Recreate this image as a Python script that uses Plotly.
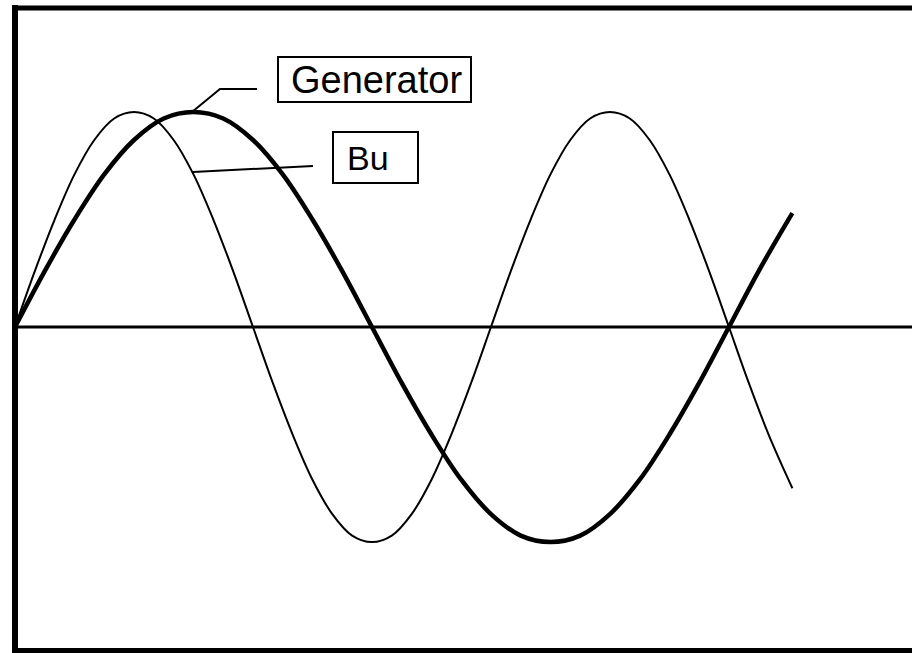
import plotly.graph_objects as go

# Phase angle (degrees) along the horizontal axis, for each curve
angle_gen = [0, 15, 30, 45, 60, 75, 90, 105, 120, 135, 150, 165, 180, 195, 210,
             225, 240, 255, 270, 285, 300, 315, 330, 345, 360, 375, 390, 392]
angle_bu = [0, 10, 20, 30, 40, 50, 60, 70, 80, 90, 100, 110, 120, 130, 140, 150, 160,
            170, 180, 190, 200, 210, 220, 230, 240, 250, 260, 270, 280, 290, 300, 310,
            320, 330, 340, 350, 360, 370, 380, 390, 392]

# Generator (thick) curve, normalised amplitude
generator = [0.00, 0.26, 0.50, 0.71, 0.87, 0.97, 1.00, 0.97, 0.87, 0.71, 0.50, 0.26, 0.00,
             -0.26, -0.50, -0.71, -0.87, -0.97, -1.00, -0.97, -0.87, -0.71, -0.50, -0.26,
             0.00, 0.26, 0.50, 0.53]

# Bu (thin) curve, normalised amplitude
bu = [0.00, 0.26, 0.50, 0.71, 0.87, 0.97, 1.00, 0.97, 0.87, 0.71, 0.50, 0.26, 0.00,
      -0.26, -0.50, -0.71, -0.87, -0.97, -1.00, -0.97, -0.87, -0.71, -0.50, -0.26,
      0.00, 0.26, 0.50, 0.71, 0.87, 0.97, 1.00, 0.97, 0.87, 0.71, 0.50, 0.26, 0.00,
      -0.26, -0.50, -0.71, -0.75]

labels = ["Generator", "Bu"]

W, H = 912, 653


def px(x):
    return x / W


def py(y):
    return 1 - y / H


fig = go.Figure()
fig.add_trace(go.Scatter(x=angle_bu, y=bu, mode="lines", name=labels[1],
                         line=dict(color="black", width=2, shape="spline", smoothing=1.0),
                         showlegend=False, hoverinfo="skip"))
fig.add_trace(go.Scatter(x=angle_gen, y=generator, mode="lines", name=labels[0],
                         line=dict(color="black", width=4.5, shape="spline", smoothing=1.0),
                         showlegend=False, hoverinfo="skip"))

shapes = []
# zero axis
shapes.append(dict(type="line", xref="paper", yref="y", x0=px(15), x1=1, y0=0, y1=0,
                   line=dict(color="black", width=3)))
# frame: left, top, bottom
shapes.append(dict(type="line", xref="paper", yref="paper", x0=px(15), x1=px(15),
                   y0=py(5), y1=py(653), line=dict(color="black", width=6)))
shapes.append(dict(type="line", xref="paper", yref="paper", x0=px(12), x1=1,
                   y0=py(8), y1=py(8), line=dict(color="black", width=5)))
shapes.append(dict(type="line", xref="paper", yref="paper", x0=px(12), x1=1,
                   y0=py(650.5), y1=py(650.5), line=dict(color="black", width=5)))
# label boxes
shapes.append(dict(type="rect", xref="paper", yref="paper", x0=px(278), x1=px(471),
                   y0=py(57), y1=py(102), line=dict(color="black", width=2),
                   fillcolor="white"))
shapes.append(dict(type="rect", xref="paper", yref="paper", x0=px(333), x1=px(418),
                   y0=py(132), y1=py(183), line=dict(color="black", width=2),
                   fillcolor="white"))
# leader lines
shapes.append(dict(type="path", xref="paper", yref="paper",
                   path=f"M {px(257)} {py(89)} L {px(220)} {py(89)} L {px(192)} {py(112)}",
                   line=dict(color="black", width=2)))
shapes.append(dict(type="line", xref="paper", yref="paper", x0=px(313), x1=px(193),
                   y0=py(166), y1=py(172), line=dict(color="black", width=2)))

annotations = [
    dict(text=labels[0], xref="paper", yref="paper", x=px(376), y=py(80),
         xanchor="center", yanchor="middle", showarrow=False,
         font=dict(family="Liberation Sans, Arial", size=38, color="black")),
    dict(text=labels[1], xref="paper", yref="paper", x=px(367.5), y=py(157.5),
         xanchor="center", yanchor="middle", showarrow=False,
         font=dict(family="Liberation Sans, Arial", size=34, color="black")),
]

fig.update_layout(
    width=W, height=H,
    margin=dict(l=0, r=0, t=0, b=0),
    paper_bgcolor="white", plot_bgcolor="white",
    xaxis=dict(range=[-7.56, 452.3], visible=False, fixedrange=True),
    yaxis=dict(range=[-1.516, 1.521], visible=False, fixedrange=True),
    shapes=shapes,
    annotations=annotations,
)

fig.write_html("out.html", config={"displayModeBar": False},
               post_script="document.body.style.margin='0';document.body.style.overflow='hidden';")
